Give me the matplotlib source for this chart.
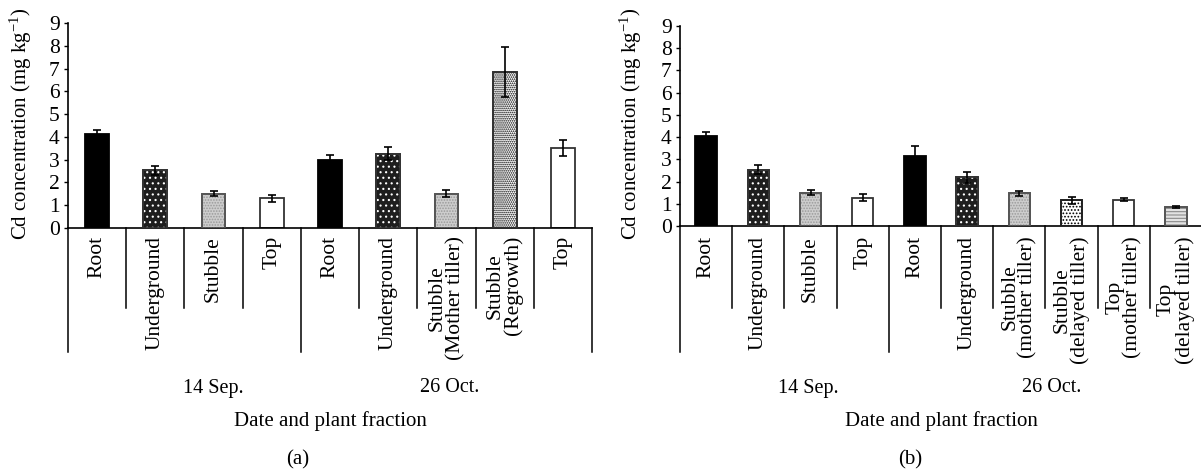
import matplotlib
matplotlib.use("Agg")
import matplotlib.pyplot as plt
from matplotlib.transforms import blended_transform_factory
import numpy as np

plt.rcParams['font.family'] = ['Liberation Serif', 'DejaVu Serif']
plt.rcParams['mathtext.fontset'] = 'custom'
plt.rcParams['mathtext.rm'] = 'Liberation Serif'
plt.rcParams['mathtext.it'] = 'Liberation Serif:italic'
plt.rcParams['hatch.linewidth'] = 0.8

# ---------------------------------------------------------------
# Data (Cd concentration, mg kg-1)
# ---------------------------------------------------------------
labels_a = ["Root", "Underground", "Stubble", "Top",
            "Root", "Underground", "Stubble\n(Mother tiller)",
            "Stubble\n(Regrowth)", "Top"]
values_a = [4.11, 2.54, 1.51, 1.31, 3.00, 3.26, 1.50, 6.86, 3.52]
errors_a = [0.19, 0.20, 0.12, 0.16, 0.22, 0.29, 0.16, 1.10, 0.36]
kinds_a = ["root", "under", "stubble", "top",
           "root", "under", "stubble", "regrowth", "top"]
groups_a = ["14 Sep.", "26 Oct."]
group_edges_a = [0, 4, 9]

labels_b = ["Root", "Underground", "Stubble", "Top",
            "Root", "Underground", "Stubble\n(mother tiller)",
            "Stubble\n(delayed tiller)", "Top\n(mother tiller)",
            "Top\n(delayed tiller)"]
values_b = [4.07, 2.54, 1.50, 1.28, 3.15, 2.19, 1.47, 1.16, 1.19, 0.86]
errors_b = [0.15, 0.19, 0.11, 0.15, 0.46, 0.25, 0.12, 0.16, 0.06, 0.04]
kinds_b = ["root", "under", "stubble", "top",
           "root", "under", "stubble", "delayed", "top", "topdelayed"]
groups_b = ["14 Sep.", "26 Oct."]
group_edges_b = [0, 4, 10]

# face, hatch, hatch colour, edge
STYLES = {
    "root":       ("black",   None,      None,      "black"),
    "under":      ("#1e1e1e", "...",     "white",   "#333333"),
    "stubble":    ("#cdcdcd", "......",  "#9a9a9a", "#555555"),
    "top":        ("white",   None,      None,      "#333333"),
    "regrowth":   ("white",   "........", "black",  "#333333"),
    "delayed":    ("white",   ".....",   "black",   "#222222"),
    "topdelayed": ("#e2e2e2", "-----",   "#8a8a8a", "#555555"),
}

W, H = 1201, 472
fig = plt.figure(figsize=(W / 100, H / 100), dpi=100)


def fx(px):
    return px / W


def fy(py):
    return 1 - py / H


def draw_panel(ax, labels, values, errors, kinds, groups, group_edges,
               group_label_x, xlabel_x, tag_x, tag):
    n = len(values)
    x = np.arange(n)
    for xi, v, k in zip(x, values, kinds):
        face, hatch, hcol, edge = STYLES[k]
        ax.bar(xi, v, width=0.41, color=face, edgecolor=edge, linewidth=1.3, zorder=2)
        if hatch:
            ax.bar(xi, v, width=0.41, color="none", edgecolor=hcol, hatch=hatch,
                   linewidth=0, zorder=3)
            ax.bar(xi, v, width=0.41, color="none", edgecolor=edge, linewidth=1.3, zorder=4)
    ax.errorbar(x, values, yerr=errors, fmt="none", ecolor="black",
                elinewidth=1.2, capsize=3, capthick=1.2, zorder=5)

    ax.set_xlim(-0.5, n - 0.5)
    ax.set_ylim(0, 9)
    ax.set_yticks(range(10))
    ax.set_xticks([])
    for s in ["top", "right"]:
        ax.spines[s].set_visible(False)
    ax.spines["left"].set_linewidth(1.2)
    ax.spines["bottom"].set_linewidth(1.2)
    ax.tick_params(axis="y", direction="out", length=3, width=1.0,
                   labelsize=15.5, pad=3)

    # category separators below the axis
    tr = blended_transform_factory(ax.transData, fig.transFigure)
    y_axis = ax.get_position().y0
    for k in range(n + 1):
        end = fy(352) if k in group_edges else fy(308)
        ax.plot([k - 0.5, k - 0.5], [y_axis, end], color="black", lw=1.1,
                transform=tr, clip_on=False)

    # category labels
    for xi, lab in zip(x, labels):
        ax.text(xi, fy(236), lab, transform=tr, rotation=90, ha="center",
                va="top", fontsize=15.5, multialignment="center", linespacing=0.92)

    # date labels
    for gx, g in zip(group_label_x, groups):
        ax.text(gx, fy(388), g, transform=tr, ha="center", va="center", fontsize=14.5)

    fig.text(fx(xlabel_x), fy(421), "Date and plant fraction", ha="center",
             va="center", fontsize=15)
    fig.text(fx(tag_x), fy(460), tag, ha="center", va="center", fontsize=15)


# panel (a)
ax_a = fig.add_axes([fx(68), fy(228), fx(592) - fx(68), fy(23) - fy(228)])
draw_panel(ax_a, labels_a, values_a, errors_a, kinds_a, groups_a, group_edges_a,
           [2.0, 6.05], 330, 298, "(a)")
fig.text(fx(21), fy(124), "Cd concentration (mg kg$^{-1}$)", rotation=90,
         ha="center", va="center", fontsize=15)

# panel (b)
ax_b = fig.add_axes([fx(680), fy(226), fx(1202) - fx(680), fy(26) - fy(226)])
draw_panel(ax_b, labels_b, values_b, errors_b, kinds_b, groups_b, group_edges_b,
           [1.95, 6.63], 941, 910, "(b)")
fig.text(fx(631), fy(124), "Cd concentration (mg kg$^{-1}$)", rotation=90,
         ha="center", va="center", fontsize=15)

fig.savefig("out.png", dpi=100)
